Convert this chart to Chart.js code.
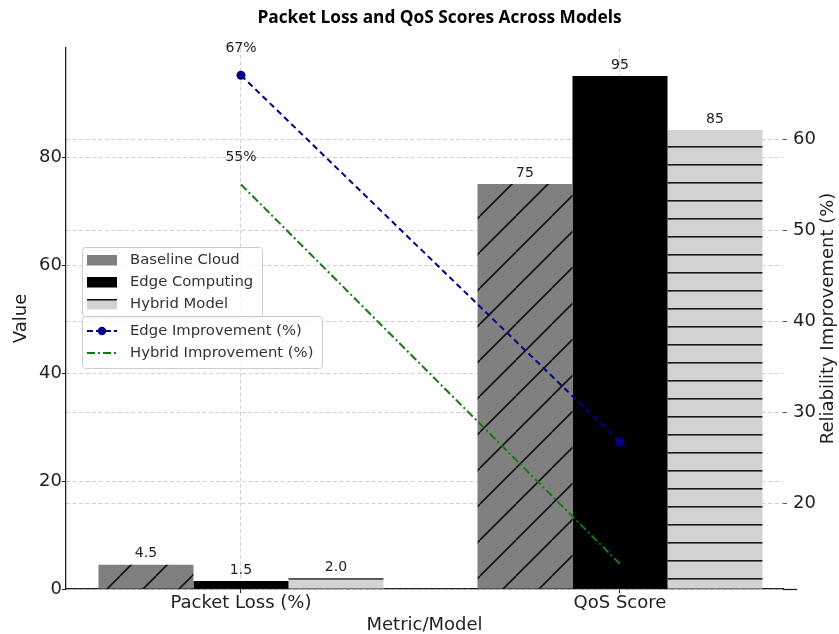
<!DOCTYPE html>
<html><head><meta charset="utf-8">
<script src="https://cdn.jsdelivr.net/npm/chart.js@4.4.0/dist/chart.umd.min.js"></script>
<style>html,body{margin:0;padding:0;background:#fff}</style>
</head><body>
<canvas id="c" width="839" height="634" style="display:block;width:839px;height:634px"></canvas>
<script>
// ---- data ----
const categories = ['Packet Loss (%)', 'QoS Score'];
const seriesNames = ['Baseline Cloud', 'Edge Computing', 'Hybrid Model'];
const baselineCloud = [4.5, 75];
const edgeComputing = [1.5, 95];
const hybridModel = [2.0, 85];
const lineNames = ['Edge Improvement (%)', 'Hybrid Improvement (%)'];
const edgeImprovement = [67, 26.7];
const hybridImprovement = [55, 13.3];
const leftTicks = [0, 20, 40, 60, 80];
const rightTicks = [20, 30, 40, 50, 60];
const chartTitle = 'Packet Loss and QoS Scores Across Models';
const xTitle = 'Metric/Model';
const yTitle = 'Value';
const y2Title = 'Reliability Improvement (%)';

// ---- styles ----
const FONT = 'DejaVu Sans';
const TXT = '#222';
const GRID = 'rgba(176,176,176,0.6)';
const FS = 18;

function diagHatch(bg, s, off) {
  const c = document.createElement('canvas'); c.width = s; c.height = s;
  const g = c.getContext('2d');
  g.fillStyle = bg; g.fillRect(0, 0, s, s);
  g.strokeStyle = '#111'; g.lineWidth = 1.6;
  g.beginPath();
  for (let k = -1; k <= 1; k++) { g.moveTo(k * s, s); g.lineTo(k * s + s, 0); }
  g.stroke();
  const p = document.createElement('canvas').getContext('2d').createPattern(c, 'repeat');
  if (p.setTransform) p.setTransform(new DOMMatrix().translate(off, 0));
  return p;
}
function horizHatch(bg, s, off) {
  const c = document.createElement('canvas'); c.width = 10; c.height = s;
  const g = c.getContext('2d');
  g.fillStyle = bg; g.fillRect(0, 0, 10, s);
  g.fillStyle = '#1a1a1a'; g.fillRect(0, 0, 10, 1.6);
  const p = document.createElement('canvas').getContext('2d').createPattern(c, 'repeat');
  if (p.setTransform) p.setTransform(new DOMMatrix().translate(0, off));
  return p;
}
const baseFill = diagHatch('#808080', 36, 12);
const edgeFill = '#000000';
const hybFill = horizHatch('#d3d3d3', 18, 2);
const barFills = [baseFill, edgeFill, hybFill];
const legendFills = ['#808080', '#000000', '#d3d3d3'];
const barData = [baselineCloud, edgeComputing, hybridModel];

const toPts = arr => arr.map((v, i) => ({ x: i, y: v }));

// plot geometry in category units
const X_MIN = -0.4617, X_MAX = 1.4301;

const labelsPlugin = {
  id: 'labels',
  afterDraw(chart) {
    const ctx = chart.ctx;
    const ca = chart.chartArea;
    ctx.save();
    // title
    ctx.font = 'bold 17.3px "Open Sans"';
    ctx.fillStyle = '#000';
    ctx.textAlign = 'center';
    ctx.textBaseline = 'middle';
    ctx.fillText(chartTitle, 439.5, 18);

    ctx.font = '14px "' + FONT + '"';
    ctx.fillStyle = TXT;
    for (let d = 0; d < 3; d++) {
      const meta = chart.getDatasetMeta(d);
      meta.data.forEach((el, i) => {
        const v = barData[d][i];
        const txt = i === 0 ? v.toFixed(1) : String(Math.round(v));
        ctx.fillText(txt, el.x, el.y - 11);
      });
    }
    [3, 4].forEach(d => {
      const meta = chart.getDatasetMeta(d);
      const el = meta.data[0];
      const v = chart.data.datasets[d].data[0].y;
      ctx.fillText(Math.round(v) + '%', el.x, el.y - 27);
    });
    // right axis title (reads bottom-to-top)
    ctx.save();
    ctx.translate(828, (ca.top + ca.bottom) / 2);
    ctx.rotate(-Math.PI / 2);
    ctx.font = FS + 'px "' + FONT + '"';
    ctx.fillStyle = TXT;
    ctx.fillText(y2Title, 0, 0);
    ctx.restore();
    // legend
    const box = (x, y, w, h) => {
      ctx.beginPath(); ctx.roundRect(x, y, w, h, 3);
      ctx.fillStyle = 'rgba(255,255,255,0.8)'; ctx.fill();
      ctx.strokeStyle = '#cccccc'; ctx.lineWidth = 1; ctx.stroke();
    };
    box(82.5, 247.5, 180, 70);
    const ys = [260, 282, 304];
    ctx.font = '14.8px "' + FONT + '"';
    ctx.textAlign = 'left';
    for (let k = 0; k < 3; k++) {
      ctx.fillStyle = legendFills[k];
      ctx.fillRect(87, ys[k] - 5, 30, 10.5);
    }
    ctx.fillStyle = '#111'; ctx.fillRect(87, ys[2] - 5, 30, 1.5);
    ctx.fillStyle = '#333';
    seriesNames.forEach((n, k) => ctx.fillText(n, 130, ys[k]));
    box(82.5, 316.5, 240, 52);
    const ly = [331, 353];
    ctx.lineWidth = 2;
    ctx.strokeStyle = '#00008b'; ctx.setLineDash([6, 3]);
    ctx.beginPath(); ctx.moveTo(87, ly[0]); ctx.lineTo(117, ly[0]); ctx.stroke();
    ctx.setLineDash([]);
    ctx.fillStyle = '#00008b'; ctx.beginPath(); ctx.arc(102, ly[0], 4.2, 0, Math.PI * 2); ctx.fill();
    ctx.strokeStyle = '#137a13'; ctx.setLineDash([8, 3, 2, 3]);
    ctx.beginPath(); ctx.moveTo(87, ly[1]); ctx.lineTo(117, ly[1]); ctx.stroke();
    ctx.setLineDash([]);
    ctx.fillStyle = '#333';
    lineNames.forEach((n, k) => ctx.fillText(n, 130, ly[k]));
    // extend bottom spine
    ctx.strokeStyle = '#222'; ctx.lineWidth = 1.3;
    ctx.beginPath(); ctx.moveTo(ca.right, ca.bottom + 0.5); ctx.lineTo(797, ca.bottom + 0.5); ctx.stroke();
    ctx.restore();
  }
};

new Chart(document.getElementById('c'), {
  type: 'bar',
  data: {
    datasets: [
      ...seriesNames.map((n, k) => ({
        type: 'bar', label: n, data: toPts(barData[k]),
        backgroundColor: barFills[k], borderWidth: 0,
        categoryPercentage: 0.752, barPercentage: 1.0, order: 2, yAxisID: 'y'
      })),
      { type: 'line', label: lineNames[0], data: toPts(edgeImprovement), yAxisID: 'y2',
        borderColor: '#00008b', backgroundColor: '#00008b', borderWidth: 2, borderDash: [6, 4],
        pointRadius: 4.5, pointBackgroundColor: '#00008b', pointBorderWidth: 0, fill: false, order: 0 },
      { type: 'line', label: lineNames[1], data: toPts(hybridImprovement), yAxisID: 'y2',
        borderColor: '#137a13', borderWidth: 2, borderDash: [8, 3, 2, 3],
        pointRadius: 0, fill: false, order: 0 }
    ]
  },
  options: {
    responsive: false, animation: false, devicePixelRatio: 1,
    layout: { padding: { top: 48, left: 0, right: 0, bottom: 0 } },
    plugins: {
      legend: { display: false }, tooltip: { enabled: false },
      title: { display: false }
    },
    scales: {
      x: {
        type: 'linear', min: X_MIN, max: X_MAX, offset: false, z: 1,
        afterBuildTicks: s => { s.ticks = categories.map((c, i) => ({ value: i })); },
        afterFit: s => { s.height = 45; },
        ticks: { callback: v => categories[v] ?? '', font: { family: FONT, size: FS }, color: TXT,
          padding: 0, maxRotation: 0, autoSkip: false },
        grid: { offset: false, color: GRID, lineWidth: 1, tickLength: 4, tickColor: '#222', tickWidth: 1 },
        border: { display: true, color: '#222', width: 1.3, dash: [4, 2.5] },
        title: { display: true, text: xTitle, font: { family: FONT, size: FS }, color: TXT, padding: { top: 0, bottom: -1.8 } }
      },
      y: {
        position: 'left', min: 0, max: 100.2, z: 1,
        afterBuildTicks: s => { s.ticks = leftTicks.map(v => ({ value: v })); },
        afterFit: s => { s.width = 66; },
        ticks: { font: { family: FONT, size: FS }, color: TXT, padding: 0 },
        grid: { color: GRID, lineWidth: 1, tickLength: 4, tickColor: '#222', tickWidth: 1 },
        border: { display: true, color: '#222', width: 1.3, dash: [4, 2.5] },
        title: { display: true, text: yTitle, font: { family: FONT, size: FS }, color: TXT, padding: { top: 11, bottom: 0 } }
      },
      y2: {
        position: 'right', min: 10.55, max: 70, z: 1,
        afterBuildTicks: s => { s.ticks = rightTicks.map(v => ({ value: v })); },
        afterFit: s => { s.width = 56; },
        ticks: { font: { family: FONT, size: FS }, color: TXT, padding: 6 },
        grid: { color: GRID, lineWidth: 1, tickLength: 4, tickColor: '#555', tickWidth: 1 },
        border: { display: false, dash: [4, 2.5] },
        title: { display: false }
      }
    }
  },
  plugins: [labelsPlugin]
});
</script>
</body></html>
